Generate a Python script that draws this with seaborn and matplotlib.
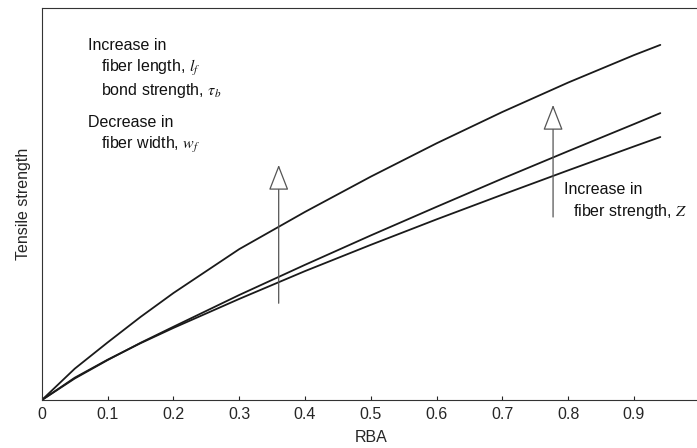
import numpy as np
import pandas as pd
import matplotlib
matplotlib.use('Agg')
import matplotlib.pyplot as plt
import seaborn as sns

# values (tensile strength in axis fractions)
rba = [0, 0.05, 0.1, 0.15, 0.2, 0.3, 0.4, 0.5, 0.6, 0.7, 0.8, 0.9, 0.94]
upper = [0, 0.080, 0.147, 0.212, 0.273, 0.385, 0.48, 0.57, 0.655, 0.735, 0.81, 0.88, 0.906]
middle = [0, 0.055, 0.102, 0.146, 0.187, 0.268, 0.345, 0.42, 0.493, 0.565, 0.635, 0.704, 0.732]
lower = [0, 0.057, 0.103, 0.145, 0.184, 0.258, 0.329, 0.396, 0.461, 0.524, 0.586, 0.647, 0.671]
xticks = [0, 0.1, 0.2, 0.3, 0.4, 0.5, 0.6, 0.7, 0.8, 0.9, 1]
xticklabels = ['0', '0.1', '0.2', '0.3', '0.4', '0.5', '0.6', '0.7', '0.8', '0.9', '1']

df = pd.DataFrame({'RBA': rba * 3,
                   'strength': upper + middle + lower,
                   'curve': ['upper'] * len(rba) + ['middle'] * len(rba) + ['lower'] * len(rba)})

sns.set_style('ticks')
plt.rcParams['font.family'] = ['Liberation Sans', 'DejaVu Sans']
plt.rcParams['mathtext.fontset'] = 'stix'

fig = plt.figure(figsize=(6.97, 4.48), dpi=100)
ax = fig.add_axes([0.060, 0.107, 0.944, 0.875])

sns.lineplot(data=df, x='RBA', y='strength', hue='curve', ax=ax,
             palette=['#1a1a1a'] * 3, linewidth=1.3, legend=False)

ax.set_xlim(0, 1)
ax.set_ylim(0, 1)
ax.set_xticks(xticks)
ax.set_xticklabels(xticklabels, fontsize=11.5)
ax.set_yticks([])
ax.tick_params(axis='x', direction='in', length=3, width=0.8, pad=5)
for s in ax.spines.values():
    s.set_linewidth(0.8)
    s.set_color('#333333')
ax.set_xlabel('RBA', fontsize=11.5, labelpad=6)
ax.set_ylabel('Tensile strength', fontsize=11.5, labelpad=8)

# arrows
arrow_kw = dict(arrowstyle='-|>,head_length=0.9,head_width=0.35', fc='white',
                ec='#555555', lw=0.9, shrinkA=0, shrinkB=0, mutation_scale=18)
ax.annotate('', xy=(0.36, 0.60), xytext=(0.36, 0.247), arrowprops=arrow_kw)
ax.annotate('', xy=(0.777, 0.753), xytext=(0.777, 0.467), arrowprops=arrow_kw)

tk = dict(fontsize=11.5, color='#111111', va='center')
ax.text(0.07, 0.905, 'Increase in', **tk)
ax.text(0.09, 0.847, r'fiber length, $l_f$', **tk)
ax.text(0.09, 0.790, r'bond strength, $\tau_b$', **tk)
ax.text(0.07, 0.708, 'Decrease in', **tk)
ax.text(0.09, 0.650, r'fiber width, $w_f$', **tk)
ax.text(0.793, 0.536, 'Increase in', **tk)
ax.text(0.808, 0.480, r'fiber strength, $Z$', **tk)

fig.savefig('out.png', dpi=100)
